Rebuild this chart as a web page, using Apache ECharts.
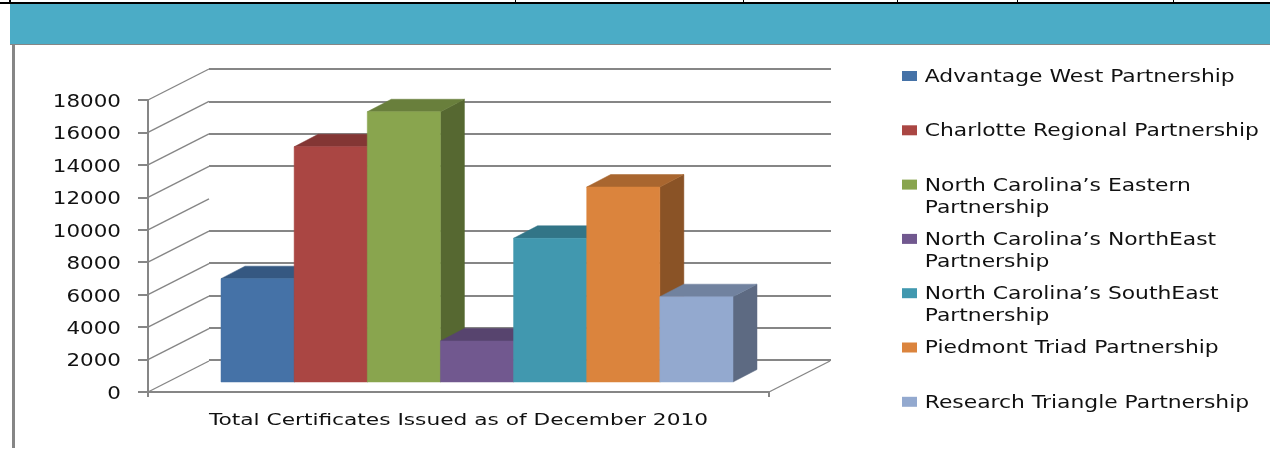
<!DOCTYPE html>
<html><head><meta charset="utf-8">
<style>html,body{margin:0;padding:0;background:#fff}#c{width:1270px;height:449px}</style>
<script src="https://cdn.jsdelivr.net/npm/echarts@6/dist/echarts.min.js"></script>
</head><body><div id="c"></div>
<script>
const partnerships = ['Advantage West Partnership','Charlotte Regional Partnership','North Carolina’s Eastern Partnership','North Carolina’s NorthEast Partnership','North Carolina’s SouthEast Partnership','Piedmont Triad Partnership','Research Triangle Partnership'];
const certificates = [6370,14500,16660,2530,8860,12020,5260];
const colors = ['#4572A7','#AA4643','#89A54E','#71588F','#4198AF','#DB843D','#93A9CF'];
const axisTitle = ['Total Certificates Issued as of December 2010'];
const yTicks = [0,2000,4000,6000,8000,10000,12000,14000,16000,18000];
const topDividers = [515,743,897,1017,1173];

const GREY = '#868686', FONT = '"DejaVu Sans"';
const shade = (hex,k)=>{const n=parseInt(hex.slice(1),16);return 'rgb('+[n>>16,(n>>8)&255,n&255].map(v=>Math.round(v*k)).join(',')+')'};
const WALL_DX = 61, WALL_DY = -31;
const FRONT_DX = 20, FRONT_DY = -10, BAR_DX = 24, BAR_DY = -12.5, GROUP_FRAC = 512/621;

function barRenderer(i){
  return function(params, api){
    const band = api.size([1,0])[0];
    const w = band*GROUP_FRAC/partnerships.length;
    const x = api.coord([0,0])[0] - band*GROUP_FRAC/2 + FRONT_DX + i*w - 1.5;
    const xr = x + w;
    const yTop = api.coord([0,api.value(1)])[1] + FRONT_DY;
    const yBase = api.coord([0,0])[1] + FRONT_DY;
    const c = colors[i];
    const poly = (pts,fill)=>({type:'polygon',shape:{points:pts},style:{fill,stroke:fill,lineWidth:0.5}});
    return {type:'group',children:[
      poly([[xr,yTop],[xr+BAR_DX,yTop+BAR_DY],[xr+BAR_DX,yBase+BAR_DY],[xr,yBase]],shade(c,0.63)),
      poly([[x,yTop],[xr,yTop],[xr+BAR_DX,yTop+BAR_DY],[x+BAR_DX,yTop+BAR_DY]],shade(c,0.77)),
      poly([[x,yTop],[xr,yTop],[xr,yBase],[x,yBase]],c)
    ]};
  };
}
function wallRenderer(params, api){
  const band = api.size([1,0])[0];
  const cx = api.coord([0,0])[0];
  const v = api.value(1);
  const y = api.coord([0,v])[1];
  const line = (x1,y1,x2,y2)=>({type:'line',shape:{x1,y1,x2,y2},style:{stroke:GREY,lineWidth:1.4}});
  const ch = [line(cx-band/2,y,cx-band/2+WALL_DX,y+WALL_DY)];
  if (v===0) ch.push(line(cx+band/2,y,cx+band/2+WALL_DX,y+WALL_DY));
  return {type:'group',children:ch};
}

const series = [{
  name:'wall',type:'custom',xAxisIndex:0,yAxisIndex:0,silent:true,z:1,
  renderItem:wallRenderer,data:yTicks.map(t=>[0,t]),encode:{x:0,y:1}
}].concat(partnerships.map((name,i)=>({
  name,type:'custom',xAxisIndex:0,yAxisIndex:0,z:3+i,
  itemStyle:{color:colors[i]},
  renderItem:barRenderer(i),data:[[0,certificates[i]]],encode:{x:0,y:1}
})));

const graphic = [
  {type:'rect',shape:{x:10,y:4,width:1260,height:40},style:{fill:'#4BACC6'}},
  {type:'rect',shape:{x:10,y:44,width:1260,height:1},style:{fill:GREY}},
  {type:'rect',shape:{x:12,y:45,width:3,height:403},style:{fill:GREY}},
  {type:'rect',shape:{x:0,y:2,width:1270,height:2},style:{fill:'#000'}},
  {type:'rect',shape:{x:9,y:0,width:2,height:4},style:{fill:'#000'}}
].concat(topDividers.map(x=>({type:'rect',shape:{x,y:0,width:1,height:3},style:{fill:'#000'}})));

const chart = echarts.init(document.getElementById('c'));
chart.setOption({
  animation:false,
  backgroundColor:'#fff',
  graphic,
  grid:[
    {left:148,right:501,top:100,bottom:57},
    {left:209,right:439,top:69,bottom:89}
  ],
  xAxis:[
    {type:'category',gridIndex:0,data:axisTitle,
     axisLine:{lineStyle:{color:GREY,width:2}},
     axisTick:{show:true,length:5,lineStyle:{color:GREY,width:2}},
     axisLabel:{margin:20,fontFamily:FONT,fontSize:16,color:'#111'}},
    {type:'category',gridIndex:1,data:axisTitle,show:false}
  ],
  yAxis:[
    {type:'value',gridIndex:0,min:0,max:18000,interval:2000,
     axisLine:{show:true,lineStyle:{color:GREY,width:2}},
     axisTick:{show:true,length:10,lineStyle:{color:GREY,width:2}},
     axisLabel:{margin:27,fontFamily:FONT,fontSize:17,color:'#111',formatter:v=>String(v)},
     splitLine:{show:false}},
    {type:'value',gridIndex:1,min:0,max:18000,interval:2000,
     axisLine:{show:false},axisTick:{show:false},axisLabel:{show:false},
     splitLine:{show:true,lineStyle:{width:2,color:[GREY,GREY,GREY,GREY,GREY,'rgba(0,0,0,0)',GREY,GREY,GREY,GREY]}}}
  ],
  legend:{
    orient:'vertical',left:902,top:43,padding:0,
    data:partnerships,selectedMode:false,icon:'rect',
    itemWidth:15,itemHeight:10,itemGap:-11.7,
    formatter:n=>'\n'+(n.startsWith('North') ? n.replace(' Partnership','\nPartnership') : n+'\n '),
    textStyle:{fontFamily:FONT,fontSize:17,lineHeight:22,color:'#111'}
  },
  series
});

// The reference's text is stretched horizontally; widen each label about its anchor.
chart.getZr().storage.traverse(el=>{
  if (el.type!=='text' || !el.style || typeof el.style.text!=='string') return;
  const s = el.style.text;
  if (/^\d+$/.test(s)) { el.scaleX = 1.26; el.y += 2.5; }
  else if (s===axisTitle[0]) { el.scaleX = 1.356; el.y += 1; }
  else { el.scaleX = 1.285; el.x -= 3; el.y += 1.5; }
  el.markRedraw();
});
</script></body></html>
